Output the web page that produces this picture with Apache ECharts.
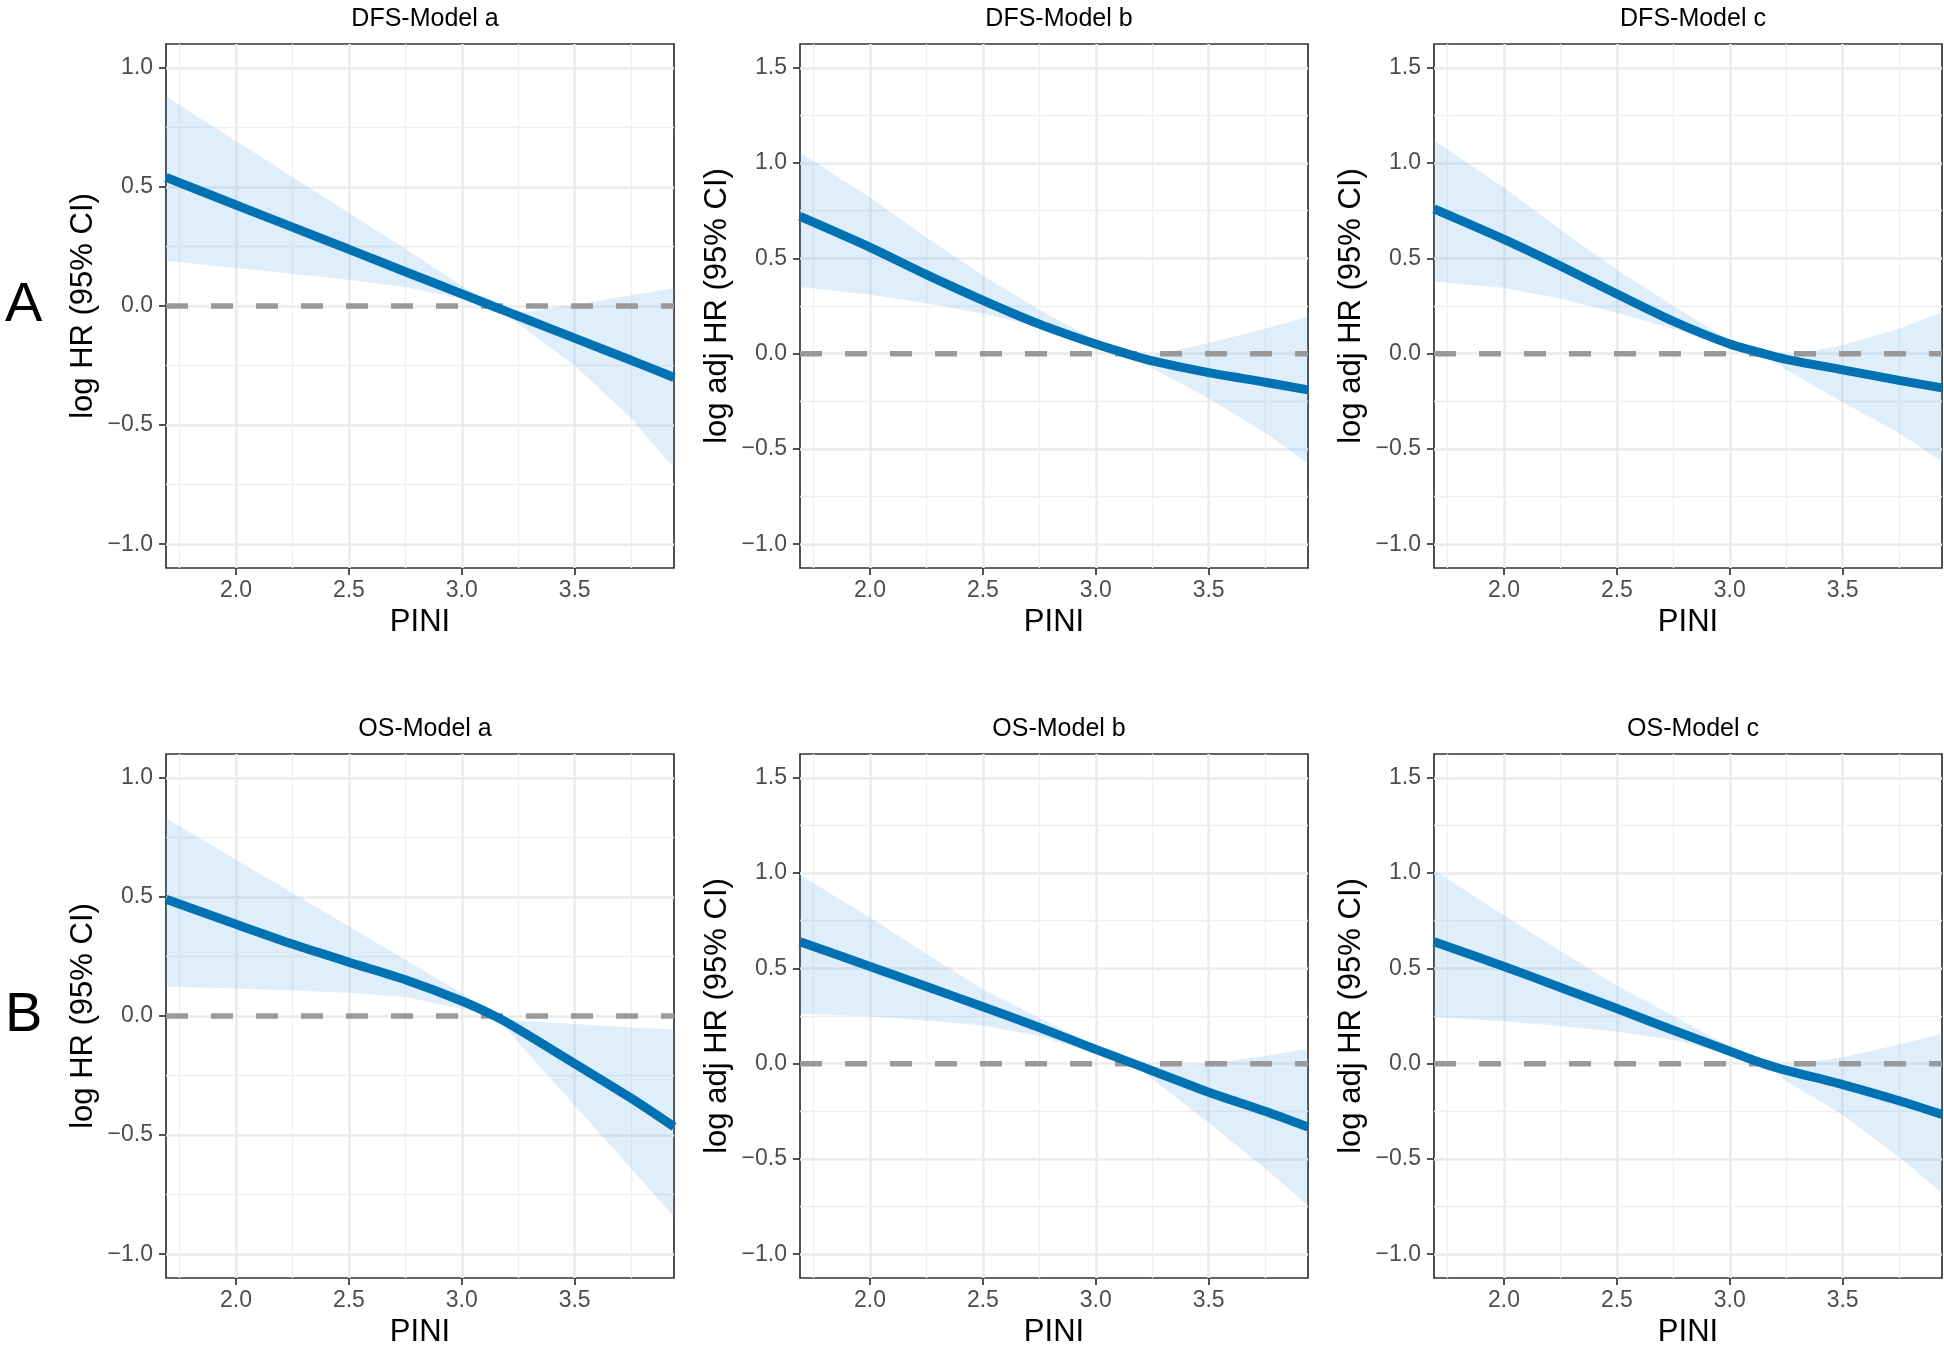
<!DOCTYPE html>
<html>
<head>
<meta charset="utf-8">
<title>PINI RCS</title>
<script src="https://cdn.jsdelivr.net/npm/echarts@6/dist/echarts.min.js"></script>
<style>
    html, body { margin: 0; padding: 0; background: #fff; }
    #main { width: 1944px; height: 1345px; }
</style>
</head>
<body>
<div id="main"></div>
<script>
// x positions (PINI) where the curves were read
var pini = [1.69, 2.0, 2.25, 2.5, 2.75, 3.0, 3.15, 3.25, 3.5, 3.75, 3.94];
var xTicks = [2.0, 2.5, 3.0, 3.5];
var xMinor = [1.75, 2.25, 2.75, 3.25, 3.75];
var yTicksA = [-1.0, -0.5, 0.0, 0.5, 1.0];
var yMinorA = [-0.75, -0.25, 0.25, 0.75];
var yTicksB = [-1.0, -0.5, 0.0, 0.5, 1.0, 1.5];
var yMinorB = [-0.75, -0.25, 0.25, 0.75, 1.25];

// DFS
var dfsA_fit   = [0.54, 0.424, 0.331, 0.238, 0.144, 0.051, -0.005, -0.042, -0.135, -0.228, -0.30];
var dfsA_upper = [0.88, 0.693, 0.542, 0.39, 0.24, 0.085, -0.005, -0.03, 0.005, 0.045, 0.075];
var dfsA_lower = [0.19, 0.16, 0.135, 0.11, 0.08, 0.03, -0.005, -0.075, -0.25, -0.47, -0.68];

var dfsB_fit   = [0.72, 0.558, 0.415, 0.28, 0.155, 0.05, -0.005, -0.038, -0.10, -0.15, -0.19];
var dfsB_upper = [1.055, 0.82, 0.61, 0.41, 0.23, 0.07, -0.005, -0.01, 0.056, 0.13, 0.195];
var dfsB_lower = [0.35, 0.31, 0.265, 0.21, 0.14, 0.035, -0.005, -0.075, -0.235, -0.415, -0.577];

var dfsC_fit   = [0.76, 0.60, 0.46, 0.313, 0.17, 0.05, 0.0, -0.03, -0.085, -0.14, -0.18];
var dfsC_upper = [1.12, 0.87, 0.65, 0.44, 0.25, 0.07, 0.0, -0.015, 0.045, 0.13, 0.217];
var dfsC_lower = [0.378, 0.345, 0.29, 0.215, 0.13, 0.035, 0.0, -0.084, -0.255, -0.416, -0.567];

// OS
var osA_fit   = [0.49, 0.385, 0.302, 0.226, 0.152, 0.063, -0.002, -0.055, -0.2, -0.345, -0.465];
var osA_upper = [0.83, 0.656, 0.516, 0.376, 0.236, 0.096, -0.002, -0.02, -0.034, -0.048, -0.057];
var osA_lower = [0.124, 0.115, 0.107, 0.098, 0.08, 0.03, -0.002, -0.11, -0.375, -0.64, -0.843];

var osB_fit   = [0.64, 0.51, 0.405, 0.298, 0.19, 0.075, 0.008, -0.037, -0.15, -0.25, -0.333];
var osB_upper = [0.99, 0.767, 0.575, 0.39, 0.24, 0.09, 0.008, -0.015, 0.0, 0.04, 0.078];
var osB_lower = [0.262, 0.249, 0.226, 0.2, 0.145, 0.05, 0.008, -0.08, -0.31, -0.55, -0.744];

var osC_fit   = [0.64, 0.51, 0.40, 0.289, 0.175, 0.065, 0.0, -0.035, -0.11, -0.195, -0.267];
var osC_upper = [1.015, 0.778, 0.59, 0.41, 0.25, 0.09, 0.0, -0.011, 0.033, 0.1, 0.156];
var osC_lower = [0.244, 0.222, 0.197, 0.167, 0.125, 0.05, 0.0, -0.09, -0.27, -0.49, -0.678];

var panels = [
    {title: 'DFS-Model a', yName: 'log HR (95% CI)', fit: dfsA_fit, up: dfsA_upper, lo: dfsA_lower, ticks: yTicksA, minor: yMinorA, ymin: -1.1, ymax: 1.1},
    {title: 'DFS-Model b', yName: 'log adj HR (95% CI)', fit: dfsB_fit, up: dfsB_upper, lo: dfsB_lower, ticks: yTicksB, minor: yMinorB, ymin: -1.125, ymax: 1.625},
    {title: 'DFS-Model c', yName: 'log adj HR (95% CI)', fit: dfsC_fit, up: dfsC_upper, lo: dfsC_lower, ticks: yTicksB, minor: yMinorB, ymin: -1.125, ymax: 1.625},
    {title: 'OS-Model a', yName: 'log HR (95% CI)', fit: osA_fit, up: osA_upper, lo: osA_lower, ticks: yTicksA, minor: yMinorA, ymin: -1.1, ymax: 1.1},
    {title: 'OS-Model b', yName: 'log adj HR (95% CI)', fit: osB_fit, up: osB_upper, lo: osB_lower, ticks: yTicksB, minor: yMinorB, ymin: -1.125, ymax: 1.625},
    {title: 'OS-Model c', yName: 'log adj HR (95% CI)', fit: osC_fit, up: osC_upper, lo: osC_lower, ticks: yTicksB, minor: yMinorB, ymin: -1.125, ymax: 1.625}
];

var FONT = "'Liberation Sans', Arial, sans-serif";
var lefts = [166, 800, 1434];
var tops = [44, 754];
var W = 508, H = 524;
var xmin = pini[0], xmax = pini[pini.length - 1];

function fmt(v) {
    return v.toFixed(1).replace('-', '\u2212');
}
function pairs(xs, ys) {
    return xs.map(function (x, i) { return [x, ys[i]]; });
}

// ribbon between lower and upper, drawn once as one polygon
function renderBand(params, api) {
    if (params.dataIndexInside !== 0) return;
    var n = params.dataInsideLength;
    var top = [], bot = [];
    for (var k = 0; k < n; k++) {
        var x = api.value(0, k);
        top.push(api.coord([x, api.value(2, k)]));
        bot.push(api.coord([x, api.value(1, k)]));
    }
    return {
        type: 'polygon',
        shape: {points: top.concat(bot.reverse())},
        style: {fill: 'rgba(90,170,235,0.2)'}
    };
}

var option = {
    animation: false,
    backgroundColor: '#fff',
    textStyle: {fontFamily: FONT},
    title: [
        {text: 'A', left: 0, top: 273, textStyle: {fontSize: 56, fontWeight: 'normal', color: '#000', fontFamily: FONT}},
        {text: 'B', left: 0, top: 983, textStyle: {fontSize: 56, fontWeight: 'normal', color: '#000', fontFamily: FONT}}
    ],
    grid: [], xAxis: [], yAxis: [], series: []
};

panels.forEach(function (p, i) {
    var r = Math.floor(i / 3), c = i % 3;
    var left = lefts[c], top = tops[r];

    option.title.push({
        text: p.title, left: left + W / 2, top: top - 42, textAlign: 'center',
        textStyle: {fontSize: 25, fontWeight: 'normal', color: '#000', fontFamily: FONT}
    });

    option.grid.push({
        left: left, top: top, width: W, height: H,
        show: true, borderColor: '#333', borderWidth: 1.7, backgroundColor: '#fff',
        containLabel: false, outerBoundsMode: 'none'
    });

    // main x axis
    option.xAxis.push({
        gridIndex: i, type: 'value', min: xmin, max: xmax,
        axisLine: {show: false, onZero: false},
        axisTick: {show: true, customValues: xTicks, length: 7, lineStyle: {color: '#333', width: 1.7}},
        axisLabel: {customValues: xTicks, formatter: fmt, color: '#4D4D4D', fontSize: 23, margin: 11, fontFamily: FONT},
        splitLine: {show: true, lineStyle: {color: '#EBEBEB', width: 2.5}},
        name: 'PINI', nameLocation: 'middle', nameGap: 39,
        nameTextStyle: {fontSize: 31, color: '#000', fontFamily: FONT}
    });
    // minor x grid
    option.xAxis.push({
        gridIndex: i, type: 'value', min: xmin, max: xmax, position: 'bottom',
        axisLine: {show: false, onZero: false},
        axisTick: {show: false, customValues: xMinor},
        axisLabel: {show: false, customValues: xMinor},
        splitLine: {show: true, lineStyle: {color: '#EFEFEF', width: 1.3}}
    });

    // main y axis
    option.yAxis.push({
        gridIndex: i, type: 'value', min: p.ymin, max: p.ymax,
        axisLine: {show: false, onZero: false},
        axisTick: {show: true, customValues: p.ticks, length: 7, lineStyle: {color: '#333', width: 1.7}},
        axisLabel: {customValues: p.ticks, formatter: fmt, color: '#4D4D4D', fontSize: 23, margin: 13, fontFamily: FONT},
        splitLine: {show: true, lineStyle: {color: '#EBEBEB', width: 2.5}},
        name: p.yName, nameLocation: 'middle', nameGap: 67,
        nameTextStyle: {fontSize: 31, color: '#000', fontFamily: FONT}
    });
    // minor y grid
    option.yAxis.push({
        gridIndex: i, type: 'value', min: p.ymin, max: p.ymax, position: 'left',
        axisLine: {show: false, onZero: false},
        axisTick: {show: false, customValues: p.minor},
        axisLabel: {show: false, customValues: p.minor},
        splitLine: {show: true, lineStyle: {color: '#EFEFEF', width: 1.3}}
    });

    var xi = 2 * i, yi = 2 * i;

    // 95% CI band
    option.series.push({
        type: 'custom', xAxisIndex: xi, yAxisIndex: yi,
        data: pini.map(function (x, k) { return [x, p.lo[k], p.up[k]]; }),
        encode: {x: 0, y: [1, 2]},
        renderItem: renderBand, clip: true, silent: true, z: 2
    });
    // reference line at 0
    option.series.push({
        type: 'line', xAxisIndex: xi, yAxisIndex: yi,
        data: [[xmin, 0], [xmax, 0]], symbol: 'none', silent: true,
        lineStyle: {color: '#999', width: 5.5, type: [22, 23]}, z: 3
    });
    // fitted curve
    option.series.push({
        type: 'line', xAxisIndex: xi, yAxisIndex: yi,
        data: pairs(pini, p.fit), smooth: 0.25, symbol: 'none', silent: true,
        lineStyle: {color: '#0071B2', width: 9, cap: 'butt'}, z: 4
    });
});

var myChart = echarts.init(document.getElementById('main'), null, {renderer: 'canvas'});
myChart.setOption(option);
</script>
</body>
</html>
